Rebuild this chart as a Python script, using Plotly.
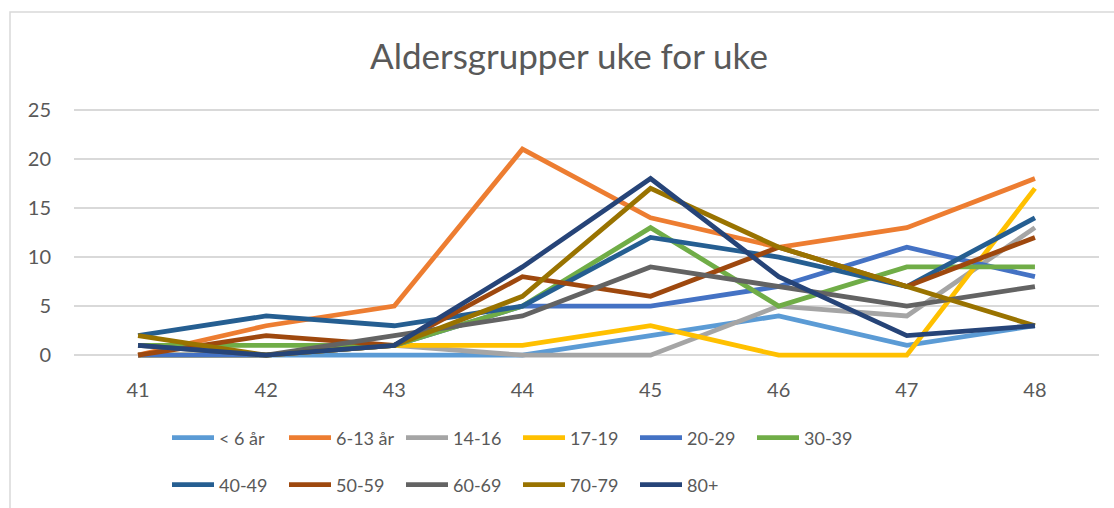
import plotly.graph_objects as go

weeks = ["41", "42", "43", "44", "45", "46", "47", "48"]
series_names = ["< 6 år", "6-13 år", "14-16", "17-19", "20-29", "30-39",
                "40-49", "50-59", "60-69", "70-79", "80+"]
v_u6 = [0, 0, 0, 0, 2, 4, 1, 3]
v_6_13 = [0, 3, 5, 21, 14, 11, 13, 18]
v_14_16 = [0, 0, 1, 0, 0, 5, 4, 13]
v_17_19 = [0, 0, 1, 1, 3, 0, 0, 17]
v_20_29 = [0, 0, 1, 5, 5, 7, 11, 8]
v_30_39 = [1, 1, 1, 5, 13, 5, 9, 9]
v_40_49 = [2, 4, 3, 5, 12, 10, 7, 14]
v_50_59 = [0, 2, 1, 8, 6, 11, 7, 12]
v_60_69 = [1, 0, 2, 4, 9, 7, 5, 7]
v_70_79 = [2, 0, 1, 6, 17, 11, 7, 3]
v_80p = [1, 0, 1, 9, 18, 8, 2, 3]
values = [v_u6, v_6_13, v_14_16, v_17_19, v_20_29, v_30_39,
          v_40_49, v_50_59, v_60_69, v_70_79, v_80p]
colors = ["#5B9BD5", "#ED7D31", "#A5A5A5", "#FFC000", "#4472C4", "#70AD47",
          "#255E91", "#9E480E", "#636363", "#997300", "#264478"]
y_ticks = [0, 5, 10, 15, 20, 25]

FONT = "Lato"
TXT = "#595959"

fig = go.Figure()
for i, (name, vals, col) in enumerate(zip(series_names, values, colors)):
    fig.add_trace(go.Scatter(
        x=weeks, y=vals, name=name, mode="lines",
        line=dict(color=col, width=4.8),
        legend="legend" if i < 6 else "legend2",
    ))

W, H = 1114, 508
ml, mr, mt, mb = 74, 15, 105, 143
pw = W - ml - mr
ph = H - mt - mb

def px_x(p):
    return (p - ml) / pw

def px_y(p):
    return (H - mb - p) / ph

legend_common = dict(
    orientation="h", xanchor="left", yanchor="middle",
    font=dict(family=FONT, size=18, color=TXT),
    entrywidth=60, entrywidthmode="pixels",
    bgcolor="rgba(0,0,0,0)", itemwidth=42,
)

fig.update_layout(
    width=W, height=H,
    margin=dict(l=ml, r=mr, t=mt, b=mb, autoexpand=False),
    paper_bgcolor="white", plot_bgcolor="white",
    title=dict(text="Aldersgrupper uke for uke", x=569 / W, xanchor="center",
               y=1 - 57 / H, yanchor="middle",
               font=dict(family=FONT, size=35, color=TXT)),
    xaxis=dict(type="category", range=[-0.5, 7.5], showgrid=False,
               zeroline=False, showline=False, ticks="",
               tickfont=dict(family=FONT, size=20, color=TXT),
               ticklabelstandoff=11),
    yaxis=dict(range=[-1, 25.5], tickvals=y_ticks, showgrid=True,
               gridcolor="#D9D9D9", gridwidth=1.5, zeroline=False,
               showline=False, ticks="",
               tickfont=dict(family=FONT, size=20, color=TXT),
               ticklabelstandoff=22),
    legend=dict(**legend_common, x=px_x(167), y=px_y(438)),
    legend2=dict(**legend_common, x=px_x(167), y=px_y(485)),
    showlegend=True,
    shapes=[dict(type="rect", xref="paper", yref="paper",
                 x0=px_x(10), x1=px_x(1200), y0=px_y(600), y1=px_y(12),
                 line=dict(color="#D9D9D9", width=1.5), layer="below")],
)

fig.write_html("out.html", config={"displayModeBar": False},
               post_script="document.body.style.margin='0';")
